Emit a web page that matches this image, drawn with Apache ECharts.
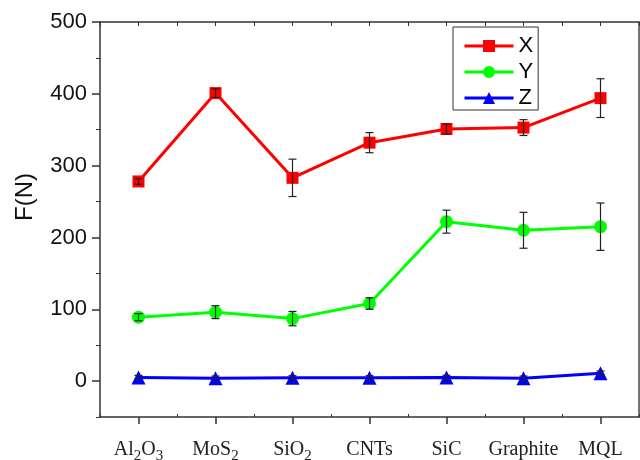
<!DOCTYPE html>
<html>
<head>
<meta charset="utf-8">
<script src="https://cdn.jsdelivr.net/npm/echarts@6/dist/echarts.min.js"></script>
<style>
  html, body { margin: 0; padding: 0; background: #fff; }
  #chart { width: 640px; height: 460px; }
</style>
</head>
<body>
<div id="chart"></div>
<script>
// ---- data ----
var categories = ['Al2O3', 'MoS2', 'SiO2', 'CNTs', 'SiC', 'Graphite', 'MQL'];
var seriesNames = ['X', 'Y', 'Z'];
var xValues = [278, 401, 283, 332, 351, 353, 394];
var xErrors = [4, 6, 26, 14, 7, 11, 27];
var yValues = [89, 96, 87, 108, 222, 210, 215];
var yErrors = [5, 9, 10, 8, 16, 25, 33];
var zValues = [5, 4, 4.5, 4.5, 5, 4, 11];
var zErrors = [3, 3, 3, 3, 3, 3, 3];
var yTickLabels = [0, 100, 200, 300, 400, 500];
var yMinorTicks = [-50, 50, 150, 250, 350, 450];
var yMin = -50, yMax = 500;
var axisTitle = 'F(N)';

var colors = ['#ff0000', '#00ff00', '#0000ff'];
var symbols = ['rect', 'circle', 'triangle'];
var symbolSizes = [12, 13, 14];
var allValues = [xValues, yValues, zValues];
var allErrors = [xErrors, yErrors, zErrors];

function subLabel(v) {
  return v.split(/(\d+)/).filter(function (p) { return p.length; }).map(function (p) {
    return /^\d+$/.test(p) ? '{s|' + p + '}' : '{n|' + p + '}';
  }).join('');
}

var chart = echarts.init(document.getElementById('chart'));

var series = [];
seriesNames.forEach(function (name, k) {
  series.push({
    name: name,
    type: 'line',
    xAxisIndex: 0,
    yAxisIndex: 0,
    data: allValues[k],
    symbol: symbols[k],
    symbolSize: symbolSizes[k],
    showAllSymbol: true,
    lineStyle: { color: colors[k], width: 3 },
    itemStyle: { color: colors[k], opacity: 1 },
    emphasis: { disabled: true },
    z: 2 + k * 0.1,
    animation: false
  });
});

seriesNames.forEach(function (name, k) {
  var errData = allValues[k].map(function (v, i) {
    return [i, v - allErrors[k][i], v + allErrors[k][i]];
  });
  series.push({
    type: 'custom',
    xAxisIndex: 0,
    yAxisIndex: 0,
    data: errData,
    z: 5,
    silent: true,
    animation: false,
    renderItem: function (params, api) {
      var lo = api.coord([api.value(0), api.value(1)]);
      var hi = api.coord([api.value(0), api.value(2)]);
      var hw = 4;
      var st = { stroke: '#222', lineWidth: 1.2 };
      return {
        type: 'group',
        children: [
          { type: 'line', shape: { x1: lo[0], y1: lo[1], x2: hi[0], y2: hi[1] }, style: st },
          { type: 'line', shape: { x1: lo[0] - hw, y1: lo[1], x2: lo[0] + hw, y2: lo[1] }, style: st },
          { type: 'line', shape: { x1: hi[0] - hw, y1: hi[1], x2: hi[0] + hw, y2: hi[1] }, style: st }
        ]
      };
    }
  });
});

var axisLineStyle = { color: '#333', width: 1.5 };

var option = {
  backgroundColor: '#ffffff',
  animation: false,
  grid: { left: 100, right: 1, top: 22, bottom: 43, containLabel: false, outerBoundsMode: 'none' },
  legend: {
    data: seriesNames,
    orient: 'vertical',
    left: 453,
    top: 27,
    itemWidth: 49,
    itemHeight: 15,
    itemGap: 4,
    padding: [8, 5, 1, 10],
    borderColor: '#333',
    borderWidth: 1,
    backgroundColor: '#fff',
    selectedMode: false,
    lineStyle: { width: 3 },
    textStyle: { fontFamily: 'Liberation Sans, Arial, sans-serif', fontSize: 22, color: '#000' }
  },
  xAxis: [
    {
      type: 'category',
      data: categories,
      position: 'bottom',
      boundaryGap: true,
      axisLine: { show: true, onZero: false, lineStyle: axisLineStyle },
      axisTick: { show: true, alignWithLabel: true, inside: false, length: 7, lineStyle: { color: '#333', width: 1.5 } },
      axisLabel: {
        show: true,
        interval: 0,
        margin: 19,
        color: '#222',
        formatter: subLabel,
        rich: {
          n: { fontFamily: 'Liberation Serif, Times New Roman, serif', fontSize: 20, lineHeight: 28, height: 28, verticalAlign: 'bottom', color: '#222' },
          s: { fontFamily: 'Liberation Serif, Times New Roman, serif', fontSize: 15, lineHeight: 15, height: 15, verticalAlign: 'bottom', color: '#222' }
        }
      },
      splitLine: { show: false }
    },
    {
      type: 'value',
      position: 'top',
      min: 0, max: 7, interval: 0.5,
      axisLine: { show: true, onZero: false, lineStyle: axisLineStyle },
      axisTick: { show: true, inside: true, length: 4, lineStyle: { color: '#333', width: 1 } },
      axisLabel: { show: false },
      splitLine: { show: false }
    },
    {
      type: 'value',
      position: 'bottom',
      min: 0, max: 7, interval: 1,
      axisLine: { show: false, onZero: false },
      axisTick: { show: true, inside: true, length: 3, lineStyle: { color: '#333', width: 1 } },
      axisLabel: { show: false },
      splitLine: { show: false }
    }
  ],
  yAxis: [
    {
      type: 'value',
      position: 'left',
      min: yMin, max: yMax, interval: 50,
      axisLine: { show: true, onZero: false, lineStyle: axisLineStyle },
      axisTick: { show: true, inside: false, length: 8, customValues: yTickLabels, lineStyle: { color: '#333', width: 1.5 } },
      axisLabel: {
        show: true,
        customValues: yTickLabels,
        margin: 13,
        color: '#111',
        fontFamily: 'Liberation Sans, Arial, sans-serif',
        fontSize: 22,
        formatter: function (v) { return (v % 100 === 0 && v >= 0) ? String(v) : ''; }
      },
      splitLine: { show: false }
    },
    {
      type: 'value',
      position: 'left',
      min: yMin, max: yMax, interval: 50,
      axisLine: { show: false, onZero: false },
      axisTick: { show: true, inside: false, length: 4, customValues: yMinorTicks, lineStyle: { color: '#333', width: 1 } },
      axisLabel: { show: false },
      splitLine: { show: false }
    },
    {
      type: 'value',
      position: 'right',
      min: yMin, max: yMax, interval: 50,
      axisLine: { show: true, onZero: false, lineStyle: { color: '#444', width: 1.5 } },
      axisTick: { show: false },
      axisLabel: { show: false },
      splitLine: { show: false }
    }
  ],
  graphic: [
    {
      type: 'text',
      x: 25,
      y: 197,
      rotation: Math.PI / 2,
      style: {
        text: axisTitle,
        fontFamily: 'Liberation Sans, Arial, sans-serif',
        fontSize: 24,
        fill: '#111',
        align: 'center',
        verticalAlign: 'middle'
      }
    }
  ],
  series: series
};

chart.setOption(option);
</script>
</body>
</html>
